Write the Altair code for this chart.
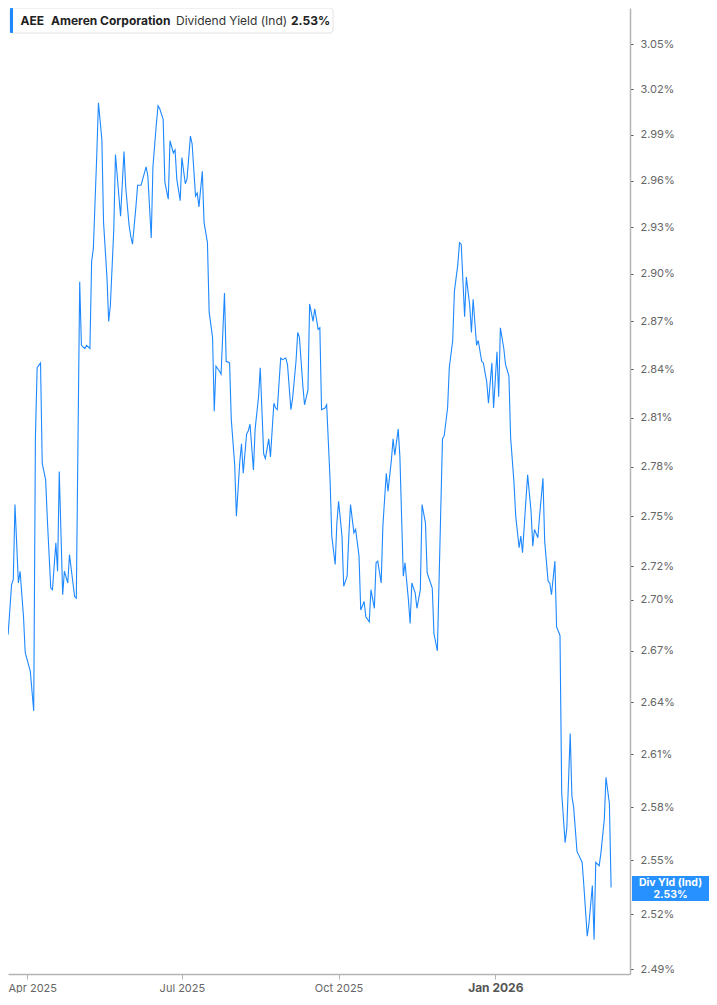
import altair as alt
import pandas as pd

# ---- data (days after 2025-04-01, dividend yield in %) ----
day_offsets = [
    -16, -15, -14, -12, -11, -9, -8, -7, -5, -4,
    -2, -1, 2, 4, 5, 6, 8, 9, 11, 12,
    14, 15, 17, 18, 19, 21, 22, 24, 25, 28,
    29, 31, 32, 34, 35, 37, 38, 39, 41, 42,
    44, 45, 47, 48, 49, 51, 52, 54, 55, 57,
    58, 60, 61, 62, 64, 65, 67, 68, 70, 71,
    73, 74, 76, 77, 78, 80, 81, 83, 84, 86,
    87, 88, 90, 91, 93, 94, 96, 97, 99, 100,
    101, 103, 104, 106, 107, 109, 110, 111, 113, 114,
    116, 117, 119, 120, 122, 123, 125, 126, 127, 129,
    130, 131, 133, 134, 136, 137, 139, 140, 142, 143,
    145, 146, 147, 149, 150, 152, 153, 155, 156, 158,
    159, 160, 162, 163, 165, 166, 168, 169, 171, 172,
    173, 175, 176, 178, 179, 181, 182, 183, 185, 186,
    188, 189, 190, 192, 193, 195, 196, 198, 199, 201,
    202, 204, 205, 206, 208, 209, 211, 212, 214, 215,
    216, 218, 219, 221, 222, 224, 225, 226, 228, 229,
    231, 232, 234, 235, 237, 238, 239, 241,
    244, 245, 247, 248, 250, 251, 253, 254, 255, 257,
    258, 260, 261, 262, 264, 265, 267, 268, 270, 271,
    273, 274, 276, 277, 278, 280, 281, 283, 284, 286,
    287, 289, 290, 291, 293, 294, 296, 297, 298, 300,
    301, 303, 304, 306, 307, 308, 310, 311, 313, 314,
    316, 317, 319, 320, 321, 323, 324, 326, 327, 329,
    330, 332, 333, 334, 336, 337, 339, 340, 342, 343,
]
yield_values = [
    2.690, 2.660, 2.683, 2.678, 2.680, 2.709, 2.712, 2.757, 2.710, 2.717,
    2.690, 2.669, 2.658, 2.635, 2.798, 2.841, 2.844, 2.782, 2.772, 2.748,
    2.707, 2.706, 2.734, 2.717, 2.777, 2.703, 2.717, 2.710, 2.727, 2.702,
    2.701, 2.895, 2.855, 2.853, 2.855, 2.853, 2.908, 2.916, 2.976, 3.011,
    2.987, 2.933, 2.898, 2.870, 2.880, 2.928, 2.977, 2.950, 2.937, 2.979,
    2.956, 2.931, 2.924, 2.919, 2.943, 2.957, 2.957, 2.961, 2.969, 2.963,
    2.923, 2.969, 2.997, 3.009, 3.007, 3.000, 2.959, 2.948, 2.986, 2.978,
    2.980, 2.961, 2.947, 2.975, 2.958, 2.961, 2.989, 2.984, 2.950, 2.952,
    2.943, 2.966, 2.933, 2.920, 2.876, 2.860, 2.814, 2.842, 2.839, 2.837,
    2.888, 2.845, 2.844, 2.809, 2.781, 2.750, 2.783, 2.794, 2.776, 2.800,
    2.802, 2.806, 2.778, 2.803, 2.823, 2.841, 2.788, 2.785, 2.797, 2.786,
    2.819, 2.816, 2.815, 2.847, 2.846, 2.847, 2.843, 2.815, 2.822, 2.845,
    2.863, 2.860, 2.830, 2.818, 2.827, 2.881, 2.870, 2.878, 2.865, 2.866,
    2.815, 2.816, 2.818, 2.772, 2.738, 2.721, 2.746, 2.759, 2.738, 2.708,
    2.714, 2.738, 2.757, 2.740, 2.742, 2.726, 2.694, 2.699, 2.690, 2.687,
    2.706, 2.695, 2.722, 2.723, 2.710, 2.744, 2.776, 2.765, 2.784, 2.797,
    2.787, 2.803, 2.786, 2.714, 2.722, 2.700, 2.686, 2.710, 2.704, 2.695,
    2.706, 2.757, 2.746, 2.716, 2.710, 2.707, 2.680, 2.670,
    2.797, 2.799, 2.816, 2.841, 2.858, 2.889, 2.906, 2.920, 2.919, 2.873,
    2.898, 2.880, 2.863, 2.884, 2.855, 2.858, 2.845, 2.844, 2.832, 2.819,
    2.844, 2.816, 2.851, 2.823, 2.866, 2.853, 2.843, 2.836, 2.798, 2.770,
    2.750, 2.731, 2.738, 2.728, 2.760, 2.775, 2.753, 2.732, 2.742, 2.737,
    2.750, 2.773, 2.735, 2.711, 2.710, 2.703, 2.723, 2.684, 2.679, 2.588,
    2.560, 2.568, 2.622, 2.586, 2.580, 2.555, 2.553, 2.549, 2.536, 2.508,
    2.515, 2.536, 2.506, 2.549, 2.547, 2.554, 2.573, 2.597, 2.582, 2.535,
]
y_tick_values = [2.49, 2.52, 2.55, 2.58, 2.61, 2.64, 2.67, 2.70, 2.72, 2.75,
                 2.78, 2.81, 2.84, 2.87, 2.90, 2.93, 2.96, 2.99, 3.02, 3.05]
header_texts = ["AEE", "Ameren Corporation", "Dividend Yield (Ind)", "2.53%"]
end_label_texts = ["Div Yld (Ind)", "2.53%"]

BLUE = "#1e88ff"
FONT = "Inter"

base = pd.Timestamp("2025-04-01")
dates = [(base + pd.Timedelta(days=d)).strftime("%Y-%m-%d") for d in day_offsets]
df = pd.DataFrame({"date": dates, "yld": yield_values})

x_ticks = [alt.DateTime(year=2025, month=4, date=1, utc=True),
           alt.DateTime(year=2025, month=7, date=1, utc=True),
           alt.DateTime(year=2025, month=10, date=1, utc=True),
           alt.DateTime(year=2026, month=1, date=1, utc=True)]

is_jan = "utcmonth(datum.value) === 0"
is_apr = "utcmonth(datum.value) === 3"

line = alt.Chart(df).mark_line(color=BLUE, strokeWidth=1.1, clip=True).encode(
    x=alt.X("date:T",
            scale=alt.Scale(type="utc",
                            domain=[alt.DateTime(year=2025, month=3, date=20, hours=21, minutes=36, utc=True),
                                    alt.DateTime(year=2026, month=3, date=21, hours=2, minutes=24, utc=True)]),
            axis=alt.Axis(title=None, values=x_ticks, format="%b %Y", grid=False,
                          domainColor="#b5b5b5", domainWidth=1.5, tickColor="#b5b5b5",
                          tickSize=5, labelPadding=3, labelFont=FONT,
                          labelAlign={"condition": {"test": is_apr, "value": "left"}, "value": "center"},
                          labelOffset={"condition": {"test": is_apr, "value": -19}, "value": 0},
                          labelFontSize={"condition": {"test": is_jan, "value": 12}, "value": 11},
                          labelFontWeight={"condition": {"test": is_jan, "value": "bold"}, "value": "normal"},
                          labelColor={"condition": {"test": is_jan, "value": "#555555"}, "value": "#666666"})),
    y=alt.Y("yld:Q",
            scale=alt.Scale(type="log", domain=[2.4873, 3.0742], nice=False, zero=False),
            axis=alt.Axis(title=None, orient="right", values=y_tick_values,
                          labelExpr="format(datum.value, '.2f') + '%'", grid=False,
                          domainColor="#b5b5b5", domainWidth=1.5, tickColor="#555555",
                          tickSize=3, labelPadding=7, labelFont=FONT, labelFontSize=11,
                          labelColor="#666666")),
)

one = pd.DataFrame({"k": [0]})

def rect(x1, x2, y1, y2, **kw):
    return alt.Chart(one).mark_rect(**kw).encode(
        x=alt.value(x1), x2=alt.value(x2), y=alt.value(y1), y2=alt.value(y2))

def text(t, x, y, **kw):
    return alt.Chart(pd.DataFrame({"t": [t]})).mark_text(font=FONT, **kw).encode(
        text="t:N", x=alt.value(x), y=alt.value(y))

header_box = rect(2, 325, 0, 25, fill="white", stroke="#e2e2e2", strokeWidth=1, cornerRadius=3)
header_bar = rect(2, 5, 0, 25, fill=BLUE, cornerRadius=1)
h1 = text(header_texts[0], 12.5, 13, align="left", baseline="middle", fontSize=12, fontWeight="bold", color="#222222")
h2 = text(header_texts[1], 43, 13, align="left", baseline="middle", fontSize=12, fontWeight="bold", color="#222222")
h3 = text(header_texts[2], 168, 13, align="left", baseline="middle", fontSize=12, fontWeight="normal", color="#333333")
h4 = text(header_texts[3], 283, 13, align="left", baseline="middle", fontSize=12, fontWeight="bold", color="#222222")

end_box = rect(624, 701, 868, 893, fill="#2792ff")
e1 = text(end_label_texts[0], 662.5, 875, align="center", baseline="middle", fontSize=10.5, fontWeight="bold", color="white")
e2 = text(end_label_texts[1], 662.5, 886.5, align="center", baseline="middle", fontSize=10.5, fontWeight="bold", color="white")

chart = alt.layer(line, header_box, header_bar, h1, h2, h3, h4, end_box, e1, e2).properties(
    width=622, height=966,
    autosize=alt.AutoSizeParams(type="none"),
    padding={"left": 0, "top": 0, "right": 79, "bottom": 19},
    background="white",
).configure_view(strokeWidth=0)

chart.save("out.html", embed_options={"renderer": "svg", "actions": False})
